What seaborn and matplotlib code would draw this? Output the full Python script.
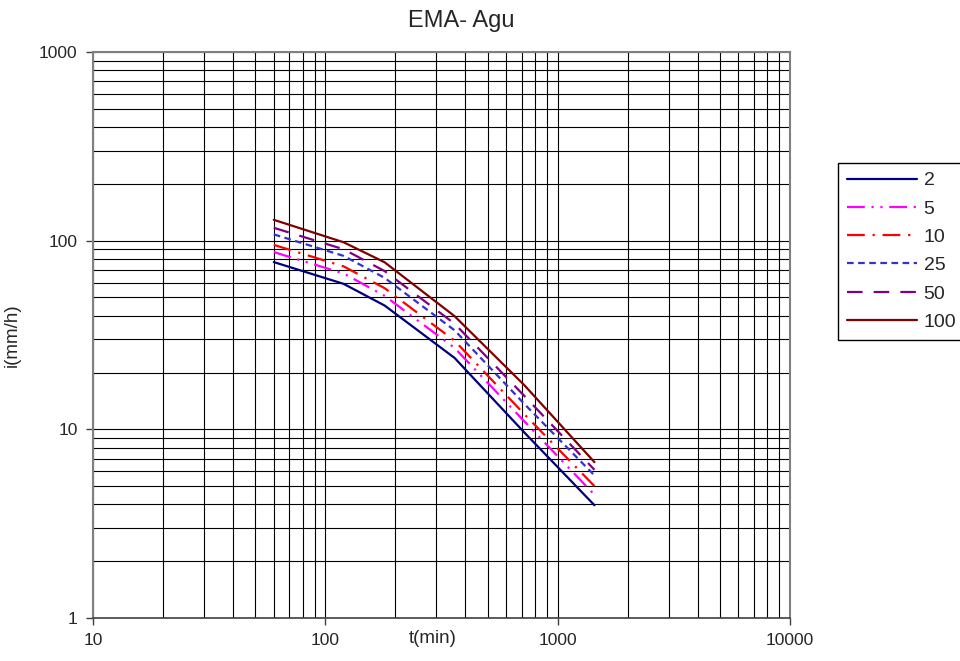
import numpy as np
import pandas as pd
import matplotlib
matplotlib.use("Agg")
import matplotlib.pyplot as plt
from matplotlib.ticker import FixedLocator, FixedFormatter, NullFormatter, LogLocator
import seaborn as sns

# Duration (min) and rainfall intensity (mm/h) per return period (years)
durations = [60, 120, 180, 360, 720, 1440]
periods = ["2", "5", "10", "25", "50", "100"]
i_2 = [77, 59, 45.3, 23.9, 9.6, 3.96]
i_5 = [87, 67, 51, 27, 11, 4.5]
i_10 = [95, 73, 56, 29.5, 12, 5.0]
i_25 = [108, 83, 63.5, 33.5, 13.6, 5.7]
i_50 = [117, 90, 69, 36.3, 15, 6.1]
i_100 = [129, 98, 76.8, 39.8, 17.1, 6.7]

x_ticks = [10, 100, 1000, 10000]
x_tick_labels = ["10", "100", "1000", "10000"]
y_ticks = [1, 10, 100, 1000]
y_tick_labels = ["1", "10", "100", "1000"]

series = [i_2, i_5, i_10, i_25, i_50, i_100]
df = pd.DataFrame({
    "t": np.tile(durations, len(periods)),
    "i": np.concatenate(series),
    "T": np.repeat(periods, len(durations)),
})

colors = {"2": "#000080", "5": "#FF00FF", "10": "#FF0000",
          "25": "#3333CC", "50": "#800080", "100": "#800000"}
dashes = {"2": "", "5": (8, 3, 1, 3, 1, 3), "10": (8, 3.5, 1, 3.5),
          "25": (3, 2), "50": (7, 5), "100": ""}

sns.set_theme(style="white")
plt.rcParams["font.family"] = ["Liberation Sans", "DejaVu Sans"]

fig = plt.figure(figsize=(9.6, 6.61), dpi=100)
W, H = 960, 661
ax = fig.add_axes([93 / W, 1 - 618 / H, (790 - 93) / W, (618 - 52) / H])

sns.lineplot(data=df, x="t", y="i", hue="T", style="T", hue_order=periods,
             style_order=periods, palette=colors, dashes=dashes,
             linewidth=1.6, estimator=None, sort=False, ax=ax)

ax.set_xscale("log")
ax.set_yscale("log")
ax.set_xlim(10, 10000)
ax.set_ylim(1, 1000)

ax.xaxis.set_major_locator(FixedLocator(x_ticks))
ax.xaxis.set_major_formatter(FixedFormatter(x_tick_labels))
ax.yaxis.set_major_locator(FixedLocator(y_ticks))
ax.yaxis.set_major_formatter(FixedFormatter(y_tick_labels))
ax.xaxis.set_minor_locator(LogLocator(base=10, subs=np.arange(2, 10)))
ax.yaxis.set_minor_locator(LogLocator(base=10, subs=np.arange(2, 10)))
ax.xaxis.set_minor_formatter(NullFormatter())
ax.yaxis.set_minor_formatter(NullFormatter())

ax.grid(True, which="both", color="black", linewidth=0.8)
ax.set_axisbelow(True)
ax.tick_params(axis="both", which="major", direction="out", length=5,
               width=1, color="#404040", labelsize=12.5, pad=6,
               bottom=True, left=True)
ax.tick_params(axis="both", which="minor", length=0)

for side in ["top", "right", "left"]:
    ax.spines[side].set_color("#808080")
    ax.spines[side].set_linewidth(1.5)
ax.spines["bottom"].set_color("#404040")
ax.spines["bottom"].set_linewidth(1.2)

ax.set_xlabel("t(min)", fontsize=13.5)
ax.set_ylabel("i(mm/h)", fontsize=13.5)
ax.xaxis.set_label_coords((433 - 93) / (790 - 93), -0.022, transform=ax.transAxes)
ax.xaxis.label.set_va("top")
ax.yaxis.set_label_coords((21 - 93) / (790 - 93), 0.5)
fig.text(461 / W, 1 - 21 / H, "EMA- Agu", fontsize=17, ha="center", va="center")

handles, labels = ax.get_legend_handles_labels()
leg = ax.legend(handles, labels, loc="upper left",
                bbox_to_anchor=(838 / W, 1 - 163 / H),
                bbox_transform=fig.transFigure, fontsize=14,
                handlelength=3.6, handletextpad=0.35, labelspacing=0.55,
                borderpad=0.45, borderaxespad=0, frameon=True, fancybox=False,
                edgecolor="black", framealpha=1)
leg.get_frame().set_linewidth(1.0)

fig.savefig("out.png", dpi=100)
